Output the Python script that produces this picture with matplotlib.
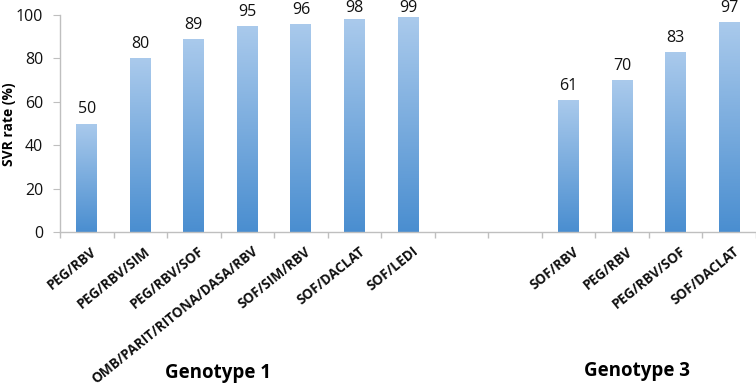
import numpy as np
import matplotlib
matplotlib.use("Agg")
import matplotlib.pyplot as plt
import matplotlib.transforms as mtransforms
from matplotlib.colors import LinearSegmentedColormap

g1_labels = ["PEG/RBV", "PEG/RBV/SIM", "PEG/RBV/SOF", "OMB/PARIT/RITONA/DASA/RBV",
             "SOF/SIM/RBV", "SOF/DACLAT", "SOF/LEDI"]
g1_values = [50, 80, 89, 95, 96, 98, 99]
g3_labels = ["SOF/RBV", "PEG/RBV", "PEG/RBV/SOF", "SOF/DACLAT"]
g3_values = [61, 70, 83, 97]
group_names = ["Genotype 1", "Genotype 3"]
gap_slots = 2

plt.rcParams['font.family'] = ['Open Sans', 'DejaVu Sans']

fig = plt.figure(figsize=(7.56, 3.91), dpi=100)
ax = fig.add_axes([60/756, 159/391, 696/756, (232-15)/391])

labels = g1_labels + g3_labels
values = g1_values + g3_values
pos = list(range(len(g1_values))) + [len(g1_values) + gap_slots + i for i in range(len(g3_values))]
nslots = len(g1_values) + gap_slots + len(g3_values)

cmap = LinearSegmentedColormap.from_list("g", ["#4A8ED0", "#AACAEC"])
grad = np.linspace(0, 1, 256).reshape(-1, 1)
bw = 0.39
for x, v in zip(pos, values):
    b = ax.bar(x, v, width=bw, color="none", edgecolor="none", zorder=2)[0]
    im = ax.imshow(grad, cmap=cmap, origin="lower", aspect="auto",
                   extent=[x - bw/2, x + bw/2, 0, v], zorder=2)
    im.set_clip_path(b)
    ax.text(x, min(v + 2.8, 99.7), str(v), ha="center", va="bottom", fontsize=11.5,
            color="#111111", clip_on=False)

ax.set_xlim(-0.5, -0.5 + 696/53.85)
ax.set_ylim(0, 100)
ax.set_yticks(range(0, 101, 20))
ax.tick_params(axis="y", length=5, color="#BFBFBF", labelsize=11.5, pad=7, labelcolor="#111111")
ax.set_xticks([p - 0.5 for p in range(nslots + 1)])
ax.set_xticklabels([])
ax.tick_params(axis="x", length=4, color="#BFBFBF", width=1)
ax.set_xticks(pos, minor=True)
ax.set_xticklabels(labels, minor=True, rotation=39, ha="right", rotation_mode="anchor",
                   fontsize=9.8, fontweight="bold", color="#111111")
ax.tick_params(axis="x", which="minor", length=0, pad=6)
offset = mtransforms.ScaledTranslation(4/100, -4/100, fig.dpi_scale_trans)
for lab in ax.get_xticklabels(minor=True):
    lab.set_transform(lab.get_transform() + offset)

for s in ["top", "right"]:
    ax.spines[s].set_visible(False)
for s in ["left", "bottom"]:
    ax.spines[s].set_color("#BFBFBF")
    ax.spines[s].set_linewidth(1)

fig.text(9/756, 1 - 124/391, "SVR rate (%)", rotation=90, ha="center", va="center",
         fontsize=10, fontweight="bold")

fig.text(218/756, 1 - 373/391, group_names[0], ha="center", va="center", fontsize=13.5, fontweight="bold")
fig.text(637/756, 1 - 371/391, group_names[1], ha="center", va="center", fontsize=13.5, fontweight="bold")

fig.savefig("out.png", dpi=100)
